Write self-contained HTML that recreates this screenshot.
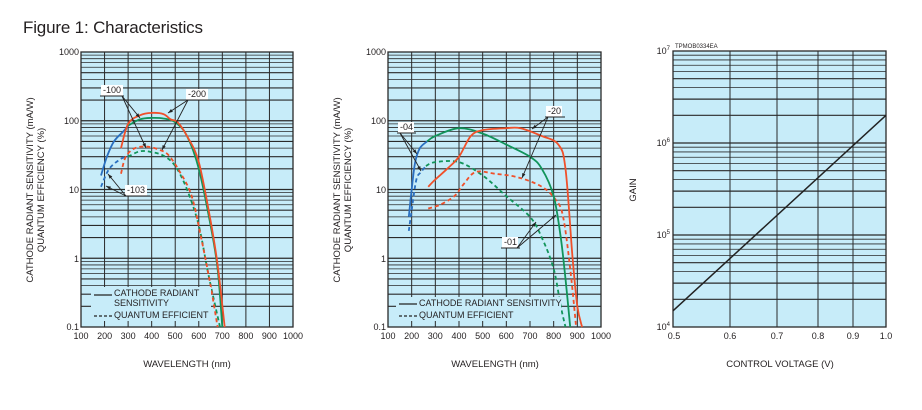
<!DOCTYPE html>
<html><head><meta charset="utf-8"><style>
html,body{margin:0;padding:0;background:#fff}
svg{display:block}
text{font-family:"Liberation Sans",Arial,sans-serif;fill:#231f20}
.t{font-size:9px}
.ax{font-size:9.5px}
</style></head><body>
<svg id="s" width="922" height="410" viewBox="0 0 922 410" xmlns="http://www.w3.org/2000/svg">
<text x="23" y="33" font-size="17" textLength="180">Figure 1: Characteristics</text>
<g id="g"></g>
<g class="t" text-anchor="end">
<text x="79" y="55">1000</text><text x="79" y="124">100</text><text x="79" y="193">10</text><text x="79" y="262">1</text><text x="79" y="330">0.1</text>
<text x="386" y="55">1000</text><text x="386" y="124">100</text><text x="386" y="193">10</text><text x="386" y="262">1</text><text x="386" y="330">0.1</text>
</g>
<g class="t" text-anchor="middle">
<text x="81" y="339">100</text><text x="104.6" y="339">200</text><text x="128.1" y="339">300</text><text x="151.7" y="339">400</text><text x="175.2" y="339">500</text><text x="198.8" y="339">600</text><text x="222.3" y="339">700</text><text x="245.9" y="339">800</text><text x="269.4" y="339">900</text><text x="293" y="339">1000</text>
<text x="388" y="339">100</text><text x="411.7" y="339">200</text><text x="435.3" y="339">300</text><text x="459" y="339">400</text><text x="482.7" y="339">500</text><text x="506.3" y="339">600</text><text x="530" y="339">700</text><text x="553.7" y="339">800</text><text x="577.3" y="339">900</text><text x="601" y="339">1000</text>
<text x="674" y="339">0.5</text><text x="730" y="339">0.6</text><text x="777" y="339">0.7</text><text x="818" y="339">0.8</text><text x="853" y="339">0.9</text><text x="886" y="339">1.0</text>
</g>
<g class="ax" text-anchor="middle">
<text x="187" y="367">WAVELENGTH (nm)</text>
<text x="495" y="367">WAVELENGTH (nm)</text>
<text x="780" y="367">CONTROL VOLTAGE (V)</text>
<text transform="translate(33,190) rotate(-90)">CATHODE RADIANT SENSITIVITY (mA/W)</text>
<text transform="translate(44,190) rotate(-90)">QUANTUM EFFICIENCY (%)</text>
<text transform="translate(340,190) rotate(-90)">CATHODE RADIANT SENSITIVITY (mA/W)</text>
<text transform="translate(351,190) rotate(-90)">QUANTUM EFFICIENCY (%)</text>
<text transform="translate(636,190) rotate(-90)">GAIN</text>
</g>
<g class="t" text-anchor="end">
<text x="670" y="54">10<tspan font-size="6" dy="-4">7</tspan></text>
<text x="670" y="146">10<tspan font-size="6" dy="-4">6</tspan></text>
<text x="670" y="238">10<tspan font-size="6" dy="-4">5</tspan></text>
<text x="670" y="330">10<tspan font-size="6" dy="-4">4</tspan></text>
</g>
<text x="675" y="48" font-size="6">TPMOB0334EA</text>
<g id="ov"></g>
<g class="t">
<text x="114" y="296">CATHODE RADIANT</text>
<text x="114" y="306">SENSITIVITY</text>
<text x="114" y="318">QUANTUM EFFICIENT</text>
<text x="419" y="306">CATHODE RADIANT SENSITIVITY</text>
<text x="419" y="318">QUANTUM EFFICIENT</text>
<text x="103" y="93">-100</text>
<text x="188" y="97">-200</text>
<text x="127" y="193">-103</text>
<text x="400" y="130">-04</text>
<text x="548" y="114">-20</text>
<text x="504" y="245">-01</text>
</g>
</svg>
<script>
const NS="http://www.w3.org/2000/svg",g=document.getElementById('g'),ov=document.getElementById('ov');
function el(p,t,a){const e=document.createElementNS(NS,t);for(const k in a)e.setAttribute(k,a[k]);p.appendChild(e);return e;}
function ln(p,x1,y1,x2,y2,c,w,d){const a={x1,y1,x2,y2,stroke:c,'stroke-width':w};if(d)a['stroke-dasharray']=d;el(p,'line',a);}
function panel(x0,x1,y0,y1,dec,vx){
 el(g,'rect',{x:x0,y:y0,width:x1-x0,height:y1-y0,fill:'#c7ecf9'});
 const dh=(y1-y0)/dec;
 for(let d=0;d<dec;d++)for(let m=2;m<=9;m++){const y=y1-d*dh-Math.log10(m)*dh;ln(g,x0,y,x1,y,'#2a2a2a',(m==2||m==3||m==5)?1.2:0.8);}
 for(let d=1;d<dec;d++){const y=y1-d*dh;ln(g,x0,y,x1,y,'#2a2a2a',1.2);}
 vx.forEach(x=>ln(g,x,y0,x,y1,'#2a2a2a',1));
 el(g,'rect',{x:x0,y:y0,width:x1-x0,height:y1-y0,fill:'none',stroke:'#2a2a2a','stroke-width':1.3});
}
const v1=[],v2=[];for(let i=1;i<9;i++){v1.push(81+i*212/9);v2.push(388+i*213/9);}
panel(81,293,52,327,4,v1);panel(388,601,52,327,4,v2);panel(673,886,51,327,3,[730,777,818,853]);
function curve(X,pts,c,dash){const Y=v=>327-(Math.log10(v)+1)*68.75;
 const P=pts.map(p=>[X(p[0]),Y(p[1])]);
 let d='M'+P[0][0].toFixed(1)+','+P[0][1].toFixed(1);
 for(let i=0;i<P.length-1;i++){const p0=P[i-1]||P[i],p1=P[i],p2=P[i+1],p3=P[i+2]||p2;
  const c1=[p1[0]+(p2[0]-p0[0])/6,p1[1]+(p2[1]-p0[1])/6],c2=[p2[0]-(p3[0]-p1[0])/6,p2[1]-(p3[1]-p1[1])/6];
  d+=`C${c1[0].toFixed(1)},${c1[1].toFixed(1)} ${c2[0].toFixed(1)},${c2[1].toFixed(1)} ${p2[0].toFixed(1)},${p2[1].toFixed(1)}`;}
 const a={d,fill:'none',stroke:c,'stroke-width':1.8,'stroke-linejoin':'round'};if(dash)a['stroke-dasharray']='4,3';el(ov,'path',a);}
const X1=w=>81+(w-100)/900*212,X2=w=>388+(w-100)/900*213;
const B='#2a6fc0',G='#11945a',R='#f0502a';
curve(X1,[[185,16],[210,30],[240,50],[280,70],[300,85]],B);
curve(X1,[[185,11],[220,20],[270,28],[300,30]],B,1);
curve(X1,[[300,30],[350,36],[400,35],[450,31],[500,22],[550,10],[600,3],[640,0.6],[690,0.1]],G,1);
curve(X1,[[270,17],[290,30],[330,40],[380,42],[430,38],[470,32],[520,18],[570,8],[610,2],[650,0.4],[680,0.1]],R,1);
curve(X1,[[300,85],[350,105],[400,110],[450,108],[500,95],[550,60],[600,20],[650,3],[680,0.7],[700,0.1]],G);
curve(X1,[[270,40],[300,90],[350,120],[400,130],[450,125],[480,105],[510,95],[550,60],[600,25],[650,3.5],[680,0.8],[710,0.1]],R);
curve(X2,[[188,4],[200,10],[215,25],[235,40],[265,50]],B);
curve(X2,[[188,2.5],[200,5],[220,14],[240,18],[260,22]],B,1);
curve(X2,[[260,22],[300,25],[400,25],[500,16],[600,8],[700,4],[750,2],[800,0.7],[830,0.2],[850,0.1]],G,1);
curve(X2,[[270,5.3],[320,6],[380,8],[420,12],[470,18],[550,17],[650,15],[750,11],[810,7],[840,4],[870,0.7],[895,0.1]],R,1);
curve(X2,[[265,50],[300,60],[400,78],[500,65],[600,45],[700,30],[750,20],[800,8],[830,2],[850,0.5],[870,0.1]],G);
curve(X2,[[270,11],[300,14],[350,20],[400,30],[450,60],[500,73],[600,78],[660,78],[750,60],[820,45],[850,20],[880,1],[900,0.2],[920,0.1]],R);
const Yg=v=>327-(Math.log10(v)-4)*92;
ln(ov,673,Yg(1.5e4),886,Yg(2e6),'#222',1.5);
[[101,85,22,11],[186,89,22,11],[125,185,22,11],[398,122,16,11],[546,106,16,11],[502,237,16,11]].forEach(r=>el(ov,'rect',{x:r[0],y:r[1],width:r[2],height:r[3],fill:'#fff'}));
el(ov,'rect',{x:91,y:287,width:120,height:34,fill:'#c7ecf9'});
el(ov,'rect',{x:396,y:297,width:165,height:24,fill:'#c7ecf9'});
ln(ov,94,295,112,295,'#222',1.2);ln(ov,94,316,112,316,'#222',1.2,'3,2');
ln(ov,399,304,417,304,'#222',1.2);ln(ov,399,316,417,316,'#222',1.2,'3,2');
function arr(x1,y1,x2,y2){ln(ov,x1,y1,x2,y2,'#222',0.9);const a=Math.atan2(y2-y1,x2-x1),s=5;
 el(ov,'path',{d:`M${x2},${y2}L${x2-s*Math.cos(a-0.35)},${y2-s*Math.sin(a-0.35)}L${x2-s*Math.cos(a+0.35)},${y2-s*Math.sin(a+0.35)}Z`,fill:'#222'});}
ln(ov,100,96,124,96,'#222',0.9);arr(122,96,140,118);arr(122,96,146,148);
ln(ov,185,100,210,100,'#222',0.9);arr(188,100,168,113);arr(188,100,162,150);
ln(ov,124,196,150,196,'#222',0.9);arr(126,196,108,174);arr(126,196,106,186);
ln(ov,397,133,416,133,'#222',0.9);arr(400,133,417,154);arr(400,133,421,171);
ln(ov,545,117,565,117,'#222',0.9);arr(548,117,532,129);arr(548,117,522,178);
ln(ov,501,248,520,248,'#222',0.9);arr(517,248,536,222);arr(517,248,556,215);
</script>
</body></html>
